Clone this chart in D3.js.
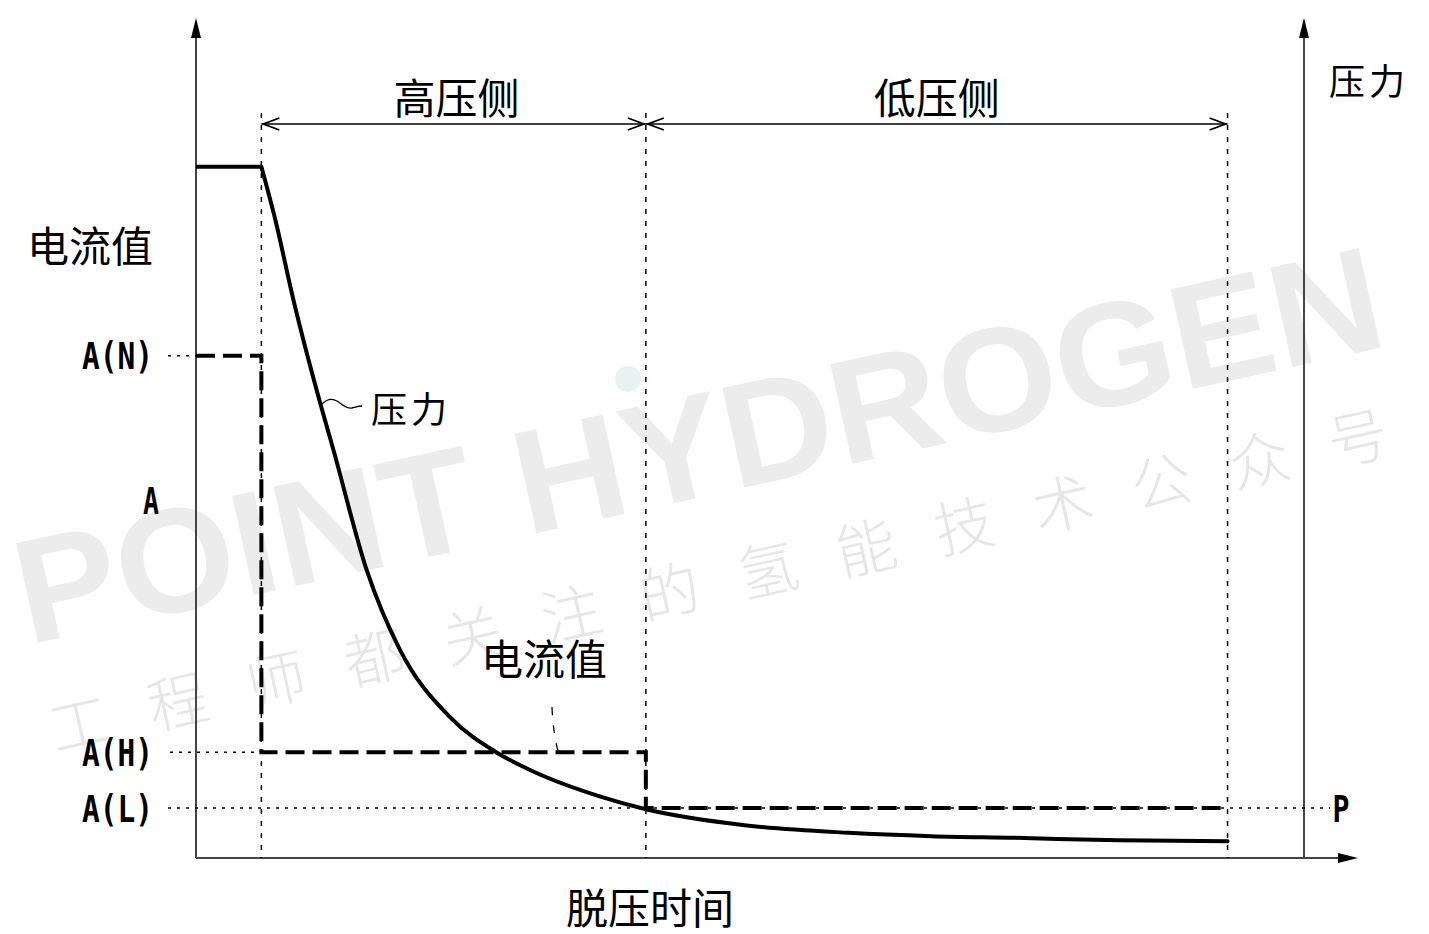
<!DOCTYPE html>
<html>
<head>
<meta charset="utf-8">
<script src="https://cdn.jsdelivr.net/npm/d3@7"></script>
<style>
  body { margin: 0; background: #fff; }
  svg { display: block; }
  .cjk { font-family: "Noto Sans CJK SC", "Noto Sans CJK JP", sans-serif; fill: #000; }
  .lat { font-family: "DejaVu Sans Mono", monospace; fill: #000; }
</style>
</head>
<body>
<script>
// Chart size
var svgWidth = 1429;
var svgHeight = 934;

// Pressure curve (time, value)
var pressureTime = [5.9, 7.1, 8.8, 11.2, 12.4, 15.4, 18.4, 22.9, 27.2, 30.1, 36.5, 40.6, 49.5, 58.9, 66.4, 73.9, 83.3, 93.1];
var pressureValue = [82.3, 76.3, 66.4, 54.2, 48.6, 34.3, 24.8, 16.8, 12.5, 10.5, 7.3, 5.8, 3.9, 3.0, 2.6, 2.4, 2.1, 2.0];
var pressureStart = 82.3;

// Current value (step line)
var currentTime = [0, 5.9, 5.9, 40.6, 40.6, 93.1];
var currentValue = [59.8, 59.8, 12.6, 12.6, 5.95, 5.95];

// Level labels on the left axis
var levelLabels = ["A(N)", "A", "A(H)", "A(L)"];
var levelValues = [59.8, 42.6, 12.6, 5.95];

// Phase boundaries and names
var phaseTimes = [5.9, 40.6, 93.1];
var phaseNames = ["高压侧", "低压侧"];

var svg = d3.select("body")
  .append("svg")
  .attr("width", svgWidth)
  .attr("height", svgHeight);

var xScale = d3.scaleLinear().domain([0, 100]).range([196, 1304]);
var yScale = d3.scaleLinear().domain([0, 100]).range([858, 18]);

// ---- watermark (behind everything)
svg.append("text")
  .attr("transform", "translate(28,645) rotate(-12.4)")
  .attr("textLength", 1395).attr("lengthAdjust", "spacingAndGlyphs")
  .style("font-family", "Liberation Sans, Arial, sans-serif")
  .style("font-weight", "bold")
  .style("font-size", "148px")
  .style("fill", "#ececec")
  .text("POINT HYDROGEN");
svg.append("text")
  .attr("transform", "translate(55,752) rotate(-12.6)")
  .attr("textLength", 1370).attr("lengthAdjust", "spacing")
  .attr("class", "cjk")
  .style("font-size", "60px")
  .style("font-weight", "300")
  .style("fill", "#e6e6e6")
  .text("工程师都关注的氢能技术公众号");
svg.append("circle").attr("cx", 628).attr("cy", 379).attr("r", 13).style("fill", "#e6f3f1");

// ---- axes
var axisColor = "#444";
svg.append("line")
  .attr("x1", xScale(0)).attr("x2", xScale(0))
  .attr("y1", yScale(0)).attr("y2", 36)
  .attr("stroke", axisColor).attr("stroke-width", 2);
svg.append("line")
  .attr("x1", xScale(100)).attr("x2", xScale(100))
  .attr("y1", yScale(0)).attr("y2", 36)
  .attr("stroke", axisColor).attr("stroke-width", 2);
svg.append("line")
  .attr("x1", xScale(0)).attr("x2", 1342)
  .attr("y1", yScale(0)).attr("y2", yScale(0))
  .attr("stroke", axisColor).attr("stroke-width", 2);

[xScale(0), xScale(100)].forEach(function(x) {
  svg.append("path")
    .attr("d", `M${x},18 L${x - 5},38 L${x + 5},38 Z`)
    .attr("fill", "#000");
});
svg.append("path")
  .attr("d", `M1358,${yScale(0)} L1338,${yScale(0) - 5} L1338,${yScale(0) + 5} Z`)
  .attr("fill", "#000");

// ---- dotted guides
var dotted = svg.append("g")
  .attr("stroke", "#000")
  .attr("stroke-width", 1.5)
  .attr("fill", "none");

phaseTimes.forEach(function(t) {
  dotted.append("line")
    .attr("x1", xScale(t)).attr("x2", xScale(t))
    .attr("y1", 113).attr("y2", yScale(0))
    .attr("stroke-dasharray", "5,7");
});

dotted.append("line")
  .attr("x1", 168).attr("x2", xScale(0))
  .attr("y1", yScale(levelValues[0])).attr("y2", yScale(levelValues[0]))
  .attr("stroke-dasharray", "3,6");
dotted.append("line")
  .attr("x1", 170).attr("x2", xScale(phaseTimes[0]))
  .attr("y1", yScale(levelValues[2])).attr("y2", yScale(levelValues[2]))
  .attr("stroke-dasharray", "3,6");
dotted.append("line")
  .attr("x1", 168).attr("x2", 1330)
  .attr("y1", yScale(levelValues[3])).attr("y2", yScale(levelValues[3]))
  .attr("stroke-dasharray", "3,6");

// ---- phase range arrows
var rangeY = 124;
for (var i = 0; i < phaseNames.length; i++) {
  var xa = xScale(phaseTimes[i]);
  var xb = xScale(phaseTimes[i + 1]);
  svg.append("line")
    .attr("x1", xa).attr("x2", xb)
    .attr("y1", rangeY).attr("y2", rangeY)
    .attr("stroke", "#000").attr("stroke-width", 1.6);
  svg.append("path")
    .attr("d", `M${xa + 18},${rangeY - 6} L${xa + 2},${rangeY} L${xa + 18},${rangeY + 6}`)
    .attr("stroke", "#000").attr("stroke-width", 1.8).attr("fill", "none");
  svg.append("path")
    .attr("d", `M${xb - 18},${rangeY - 6} L${xb - 2},${rangeY} L${xb - 18},${rangeY + 6}`)
    .attr("stroke", "#000").attr("stroke-width", 1.8).attr("fill", "none");
  svg.append("text")
    .attr("class", "cjk")
    .attr("x", (xa + xb) / 2 + (i === 0 ? 3 : 0)).attr("y", 95)
    .attr("text-anchor", "middle")
    .attr("dominant-baseline", "central")
    .style("font-size", "42px")
    .text(phaseNames[i]);
}

// ---- current value (dashed step)
var lineGen = d3.line()
  .x(d => xScale(d[0]))
  .y(d => yScale(d[1]));

svg.append("path")
  .datum(currentTime.map((t, k) => [t, currentValue[k]]))
  .attr("d", lineGen)
  .attr("fill", "none")
  .attr("stroke", "#000")
  .attr("stroke-width", 4)
  .attr("stroke-dasharray", "19,8");

// ---- pressure curve
svg.append("path")
  .datum([[0, pressureStart], [pressureTime[0], pressureStart]])
  .attr("d", lineGen)
  .attr("fill", "none")
  .attr("stroke", "#000")
  .attr("stroke-width", 4);

var curveGen = d3.line()
  .x(d => xScale(d[0]))
  .y(d => yScale(d[1]))
  .curve(d3.curveMonotoneX);

svg.append("path")
  .datum(pressureTime.map((t, k) => [t, pressureValue[k]]))
  .attr("d", curveGen)
  .attr("fill", "none")
  .attr("stroke", "#000")
  .attr("stroke-width", 4)
  .attr("stroke-linecap", "round");

// ---- leaders
svg.append("path")
  .attr("d", "M322,404 C327,399 332,398 337,401 C342,404 346,409 352,408 C356,407 359,406 362,406")
  .attr("fill", "none").attr("stroke", "#000").attr("stroke-width", 1.3);
svg.append("path")
  .attr("d", "M552,707 Q553,732 558,751")
  .attr("fill", "none").attr("stroke", "#000").attr("stroke-width", 1.3)
  .attr("stroke-dasharray", "8,10");

// ---- level labels
levelLabels.forEach(function(lab, k) {
  svg.append("text")
    .attr("class", "lat")
    .attr("x", lab.length > 1 ? 153 : 159)
    .attr("y", yScale(levelValues[k]) + 1)
    .attr("text-anchor", "end")
    .attr("dominant-baseline", "central")
    .attr("textLength", lab.length > 1 ? 71 : 16)
    .attr("lengthAdjust", "spacingAndGlyphs")
    .style("font-size", "37px")
    .style("font-weight", "bold")
    .text(lab);
});

svg.append("text")
  .attr("class", "lat")
  .attr("x", 1341).attr("y", yScale(levelValues[3]) + 1)
  .attr("text-anchor", "middle")
  .attr("dominant-baseline", "central")
  .attr("textLength", 17).attr("lengthAdjust", "spacingAndGlyphs")
  .style("font-size", "37px")
  .style("font-weight", "bold")
  .text("P");

// ---- titles
function cjkLabel(txt, x, y, size, spacing) {
  svg.append("text")
    .attr("class", "cjk")
    .attr("x", x).attr("y", y)
    .attr("text-anchor", "middle")
    .attr("dominant-baseline", "central")
    .style("font-size", size + "px")
    .style("letter-spacing", (spacing || 0) + "px")
    .text(txt);
}
cjkLabel("电流值", 90, 243, 42);
cjkLabel("压力", 1369, 79, 36, 4);
cjkLabel("压力", 411, 407, 36, 4);
cjkLabel("电流值", 544, 656, 42);
cjkLabel("脱压时间", 650, 905, 42);
</script>
</body>
</html>
